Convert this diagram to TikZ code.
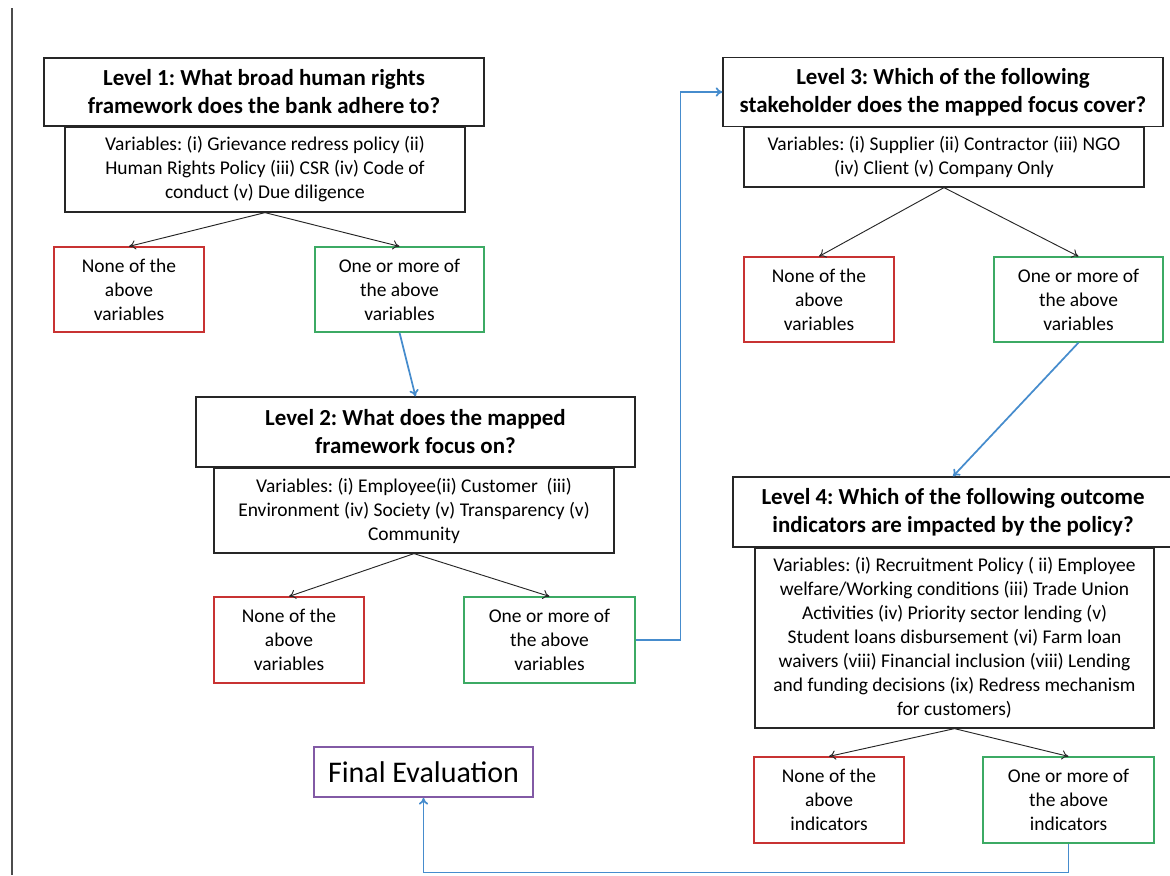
\documentclass[tikz,border=0pt]{standalone}
\usepackage{fontspec}
\setmainfont{Carlito}
\frenchspacing
\usetikzlibrary{arrows.meta}
\definecolor{redb}{RGB}{200,50,50}
\definecolor{greenb}{RGB}{60,170,100}
\definecolor{blueb}{RGB}{70,140,205}
\definecolor{purpb}{RGB}{130,90,165}
\begin{document}
\begin{tikzpicture}[x=0.75pt,y=-0.75pt,
  sz/.style 2 args={minimum width=#1*0.75pt, minimum height=#2*0.75pt, inner sep=0pt},
  titlebox/.style={draw=black!85, line width=1pt, fill=white, align=center, font=\fontsize{17.2}{21}\selectfont\bfseries},
  varbox/.style={draw=black!85, line width=0.9pt, fill=white, align=center, font=\fontsize{14.6}{18}\selectfont},
  nonebox/.style={draw=redb, line width=0.9pt, align=center, font=\fontsize{14.6}{18}\selectfont},
  onebox/.style={draw=greenb, line width=0.9pt, align=center, font=\fontsize{14.6}{18}\selectfont},
  finalbox/.style={draw=purpb, line width=1.4pt, align=center, font=\fontsize{22.5}{24}\selectfont},
  blk/.style={draw=black!85, line width=0.7pt, -{To[length=5pt,width=7pt]}},
  blu/.style={draw=blueb, line width=1.3pt, -{To[length=5pt,width=7pt]}}
]
\useasboundingbox (0,0) rectangle (1170,875);
\draw[black!70, line width=0.8pt] (12,8) -- (12,875);

% Level 1
\node[titlebox, sz={440}{68}] (t1) at (264,92) {Level 1: What broad human rights\\framework does the bank adhere to?};
\node[varbox, sz={400}{85}] (v1) at (265,169.5) {Variables: (i) Grievance redress policy (ii)\\Human Rights Policy (iii) CSR (iv) Code of\\conduct (v) Due diligence};
\node[nonebox, sz={150}{85}] (n1) at (129,289.5) {None of the\\above\\variables};
\node[onebox, sz={169}{85}] (o1) at (399.5,289.5) {One or more of\\the above\\variables};

% Level 2
\node[titlebox, sz={439}{70}] (t2) at (415.5,432) {Level 2: What does the mapped\\framework focus on?};
\node[varbox, sz={400}{85}] (v2) at (414,510.5) {Variables: (i) Employee(ii) Customer\ \ (iii)\\Environment (iv) Society (v) Transparency (v)\\Community};
\node[nonebox, sz={150}{86}] (n2) at (289,640) {None of the\\above\\variables};
\node[onebox, sz={171}{86}] (o2) at (549.5,640) {One or more of\\the above\\variables};

% Level 3
\node[titlebox, sz={440}{69}] (t3) at (943,92) {Level 3: Which of the following\\stakeholder does the mapped focus cover?};
\node[varbox, sz={400}{60}] (v3) at (944,157) {Variables: (i) Supplier (ii) Contractor (iii) NGO\\(iv) Client (v) Company Only};
\node[nonebox, sz={150}{85}] (n3) at (819,299.5) {None of the\\above\\variables};
\node[onebox, sz={169}{85}] (o3) at (1078.5,299.5) {One or more of\\the above\\variables};

% Level 4
\node[titlebox, sz={440}{70}] (t4) at (953,512) {Level 4: Which of the following outcome\\indicators are impacted by the policy?};
\node[varbox, sz={399}{180}] (v4) at (954.5,638) {Variables: (i) Recruitment Policy ( ii) Employee\\welfare/Working conditions (iii) Trade Union\\Activities (iv) Priority sector lending (v)\\Student loans disbursement (vi) Farm loan\\waivers (viii) Financial inclusion (viii) Lending\\and funding decisions (ix) Redress mechanism\\for customers)};
\node[nonebox, sz={150}{86}] (n4) at (829,800) {None of the\\above\\indicators};
\node[onebox, sz={171}{86}] (o4) at (1068.5,800) {One or more of\\the above\\indicators};

% Final
\node[finalbox, sz={219}{50}] (fe) at (423.5,772) {Final Evaluation};

% black connectors
\draw[blk] (v1.south) -- (n1.north);
\draw[blk] (v1.south) -- (o1.north);
\draw[blk] (v2.south) -- (n2.north);
\draw[blk] (v2.south) -- (o2.north);
\draw[blk] (v3.south) -- (n3.north);
\draw[blk] (v3.south) -- (o3.north);
\draw[blk] (v4.south) -- (n4.north);
\draw[blk] (v4.south) -- (o4.north);

% blue connectors
\draw[blu] (o1.south) -- (t2.north);
\draw[blu] (o2.east) -- ++(45,0) |- (t3.west);
\draw[blu] (o3.south) -- (t4.north);
\draw[blu] (o4.south) -- ++(0,29) -| (fe.south);
\end{tikzpicture}
\end{document}
